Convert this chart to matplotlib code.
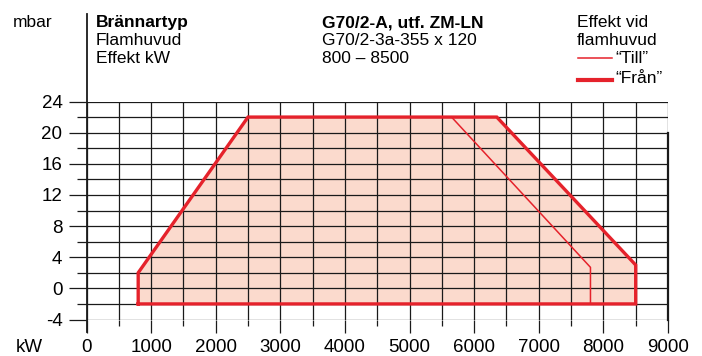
import numpy as np
import matplotlib.pyplot as plt
from matplotlib.lines import Line2D

# Arbetsområde, brännare G70/2-A
fran_x = [800, 800, 2500, 6350, 8500, 8500, 800]
fran_y = [-2, 2, 22, 22, 3, -2, -2]
till_x = [5650, 7800, 7800]
till_y = [22, 2.7, -2]

x_major = np.arange(0, 9001, 1000)
x_minor = np.arange(500, 9000, 1000)
y_major = np.arange(-4, 25, 4)
y_minor = np.arange(-2, 24, 4)

red = '#e5222b'
fill = '#fbdacd'
ink = '#1a1a1a'

plt.rcParams['font.family'] = ['Liberation Sans', 'DejaVu Sans']

W, H = 702, 356
fig = plt.figure(figsize=(W / 100, H / 100), dpi=100)


def px(x, y):
    return x / W, 1 - y / H


x0, x1 = 86.5, 668
y0, y1 = 101.5, 319.5
ax = fig.add_axes([x0 / W, 1 - y1 / H, (x1 - x0) / W, (y1 - y0) / H])
ax.set_xlim(0, 9000)
ax.set_ylim(-4, 24)

tfs = 13.5
ax.set_xticks(x_major)
ax.set_xticks(x_minor, minor=True)
ax.set_yticks(y_major)
ax.set_yticks(y_minor, minor=True)
ax.set_xticklabels([str(v) for v in x_major])
ax.set_yticklabels([str(v) for v in y_major])
ax.tick_params(axis='x', which='major', length=9, width=0.9, color=ink, pad=5, labelsize=tfs)
ax.tick_params(axis='x', which='minor', length=4, width=0.9, color=ink)
ax.tick_params(axis='y', which='major', length=13.3, width=0.9, color=ink, pad=4, labelsize=tfs)
ax.tick_params(axis='y', which='minor', length=7.5, width=0.9, color=ink)
ax.grid(which='both', color=ink, lw=0.9)

for s in ['top', 'right', 'bottom', 'left']:
    ax.spines[s].set_visible(False)

# arbetsfält
ax.fill(fran_x, fran_y, color=fill, zorder=1, lw=0)
ax.plot(fran_x, fran_y, color=red, lw=2.4, zorder=3, solid_joinstyle='miter')
ax.plot(till_x, till_y, color=red, lw=1.1, zorder=3)
ax.plot([9000, 9000], [-4, 20], color=ink, lw=1.6, zorder=2, clip_on=False)

# vänster axellinje, från rubriken ned till skalan
fig.add_artist(Line2D([x0 / W, x0 / W], [1 - 14 / H, 1 - 332 / H], color=ink, lw=1.3))

fs = 12.5
fig.text(*px(13, 27), 'mbar', fontsize=fs, va='baseline')
fig.text(*px(16, 347), 'kW', fontsize=tfs, va='center')

fig.text(*px(96, 27), 'Brännartyp', fontsize=fs, va='baseline', fontweight='bold')
fig.text(*px(96, 45), 'Flamhuvud', fontsize=fs, va='baseline')
fig.text(*px(96, 63), 'Effekt kW', fontsize=fs, va='baseline')

fig.text(*px(322, 27), 'G70/2-A, utf. ZM-LN', fontsize=fs, va='baseline', fontweight='bold')
fig.text(*px(322, 45), 'G70/2-3a-355 x 120', fontsize=fs, va='baseline')
fig.text(*px(322, 63), '800 – 8500', fontsize=fs, va='baseline')

fig.text(*px(577, 27), 'Effekt vid', fontsize=fs, va='baseline')
fig.text(*px(577, 45), 'flamhuvud', fontsize=fs, va='baseline')
fig.add_artist(Line2D([578 / W, 612 / W], [1 - 58 / H] * 2, color=red, lw=1.1))
fig.add_artist(Line2D([578 / W, 612 / W], [1 - 80 / H] * 2, color=red, lw=3.0))
fig.text(*px(615, 63), '“Till”', fontsize=fs, va='baseline')
fig.text(*px(615, 83), '“Från”', fontsize=fs, va='baseline')

fig.savefig('out.png', dpi=100)
